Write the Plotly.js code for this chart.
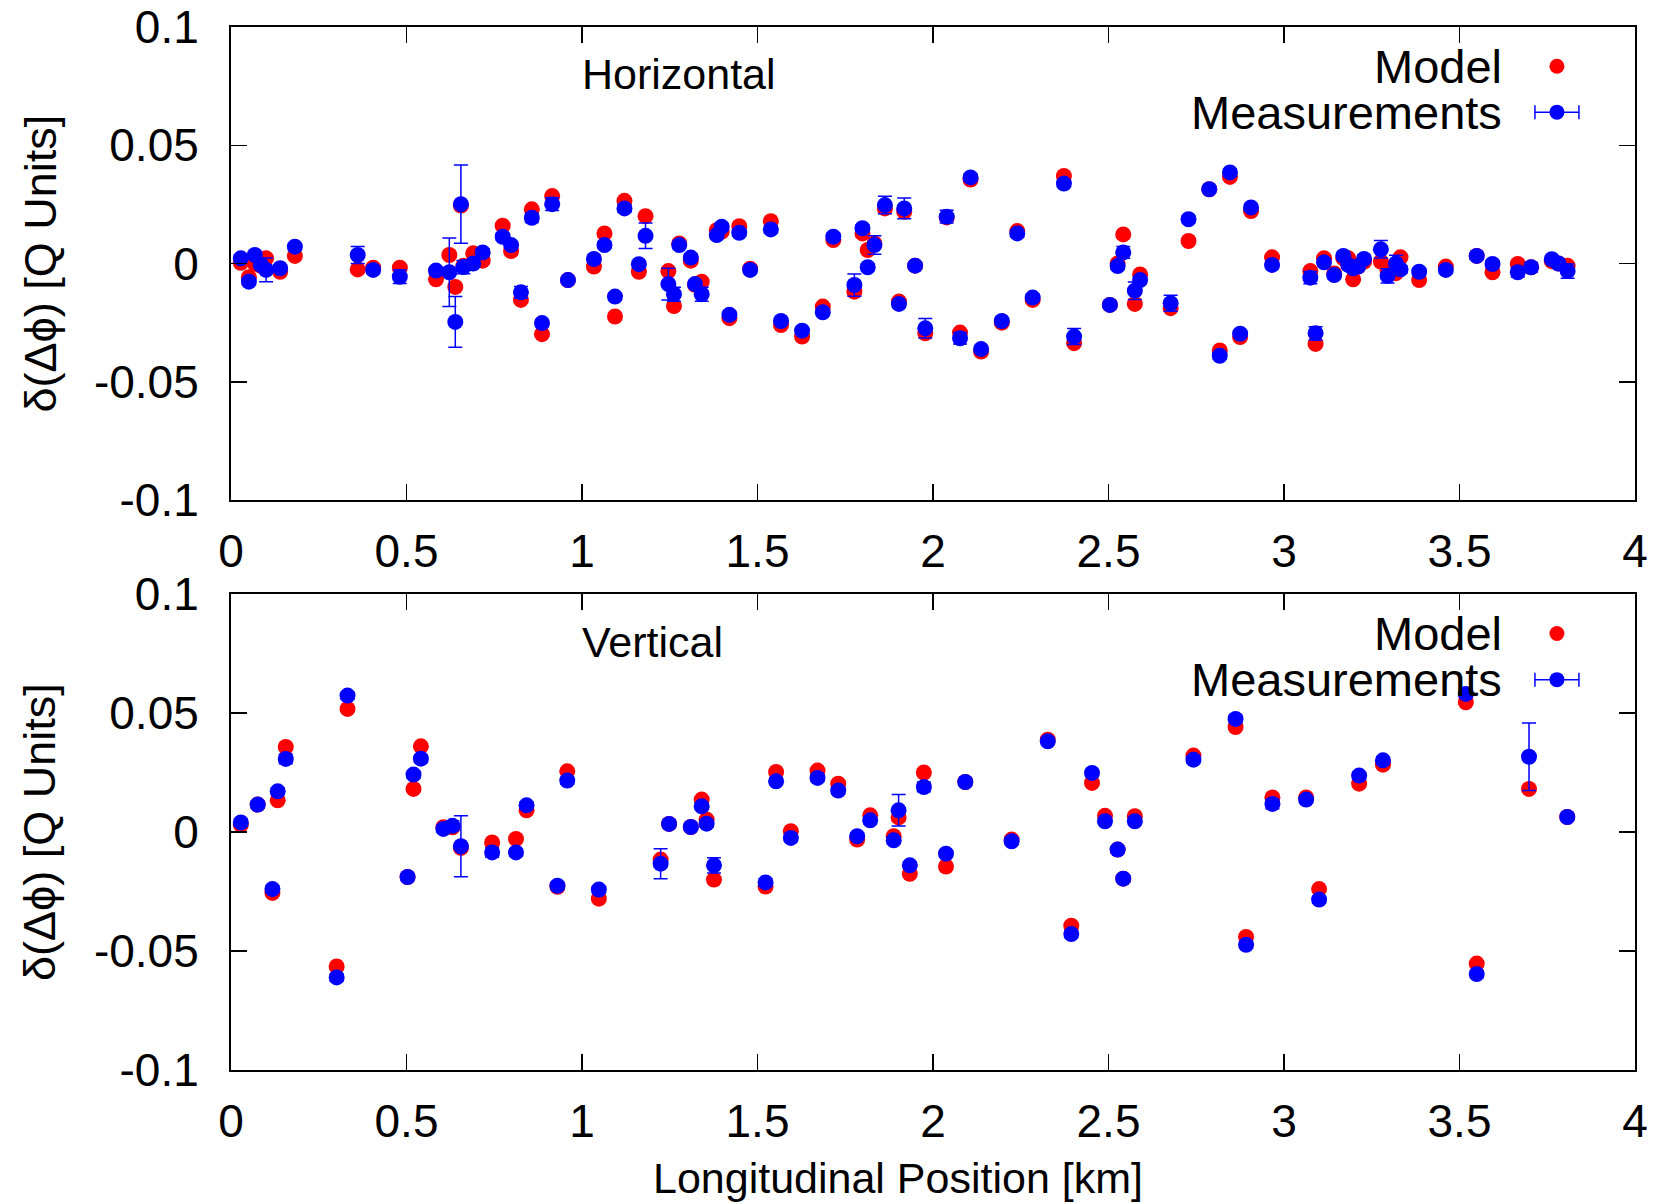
<!DOCTYPE html>
<html>
<head>
<meta charset="utf-8">
<script src="https://cdn.plot.ly/plotly-3.0.1.min.js"></script>
<style>html,body{margin:0;padding:0;background:#fff;}#chart{width:1667px;height:1204px;}</style>
</head>
<body>
<div id="chart"></div>
<script>
// ---- Horizontal plane ----
const posH = [0.028,0.051,0.068,0.085,0.100,0.140,0.182,0.361,0.405,0.481,0.584,0.622,0.639,0.655,0.662,0.690,0.717,0.774,0.798,0.826,0.857,0.886,0.915,0.960,1.034,1.064,1.094,1.121,1.162,1.181,1.246,1.262,1.277,1.310,1.322,1.341,1.384,1.398,1.420,1.448,1.479,1.538,1.567,1.627,1.686,1.716,1.776,1.799,1.814,1.833,1.863,1.903,1.918,1.949,1.978,2.039,2.077,2.107,2.137,2.196,2.240,2.284,2.373,2.402,2.504,2.526,2.542,2.575,2.590,2.677,2.728,2.787,2.817,2.846,2.875,2.906,2.966,3.075,3.090,3.114,3.143,3.169,3.183,3.197,3.211,3.228,3.276,3.295,3.319,3.332,3.385,3.461,3.549,3.594,3.666,3.704,3.763,3.782,3.808];
const modelH = [0.0003,-0.0058,0.0000,-0.0010,0.0022,-0.0035,0.0032,-0.0025,-0.0018,-0.0018,-0.0067,0.0036,-0.0099,0.0245,-0.0010,0.0043,0.0012,0.0160,0.0053,-0.0154,0.0229,-0.0299,0.0285,-0.0070,-0.0013,0.0127,-0.0224,0.0265,-0.0035,0.0200,-0.0032,-0.0180,0.0085,0.0012,-0.0090,-0.0077,0.0141,0.0135,-0.0231,0.0158,-0.0022,0.0179,-0.0260,-0.0309,-0.0182,0.0099,-0.0119,0.0127,0.0057,0.0085,0.0233,-0.0161,0.0219,-0.0009,-0.0295,0.0195,-0.0292,0.0355,-0.0372,-0.0250,0.0137,-0.0154,0.0370,-0.0337,-0.0175,0.0000,0.0123,-0.0171,-0.0046,-0.0189,0.0095,0.0314,-0.0368,0.0366,-0.0311,0.0222,0.0026,-0.0032,-0.0340,0.0022,-0.0042,0.0022,0.0022,-0.0067,-0.0013,0.0008,0.0008,-0.0030,-0.0041,0.0026,-0.0070,-0.0013,0.0032,-0.0037,-0.0002,-0.0016,0.0010,0.0000,-0.0010];
const measH = [0.0022,-0.0077,0.0036,-0.0006,-0.0027,-0.0020,0.0071,0.0036,-0.0027,-0.0056,-0.0030,-0.0037,-0.0247,0.0251,-0.0015,0.0000,0.0047,0.0113,0.0078,-0.0122,0.0193,-0.0252,0.0251,-0.0070,0.0019,0.0078,-0.0140,0.0233,-0.0003,0.0117,-0.0087,-0.0130,0.0078,0.0025,-0.0087,-0.0130,0.0120,0.0155,-0.0217,0.0130,-0.0027,0.0144,-0.0243,-0.0284,-0.0206,0.0113,-0.0091,0.0149,-0.0016,0.0078,0.0247,-0.0171,0.0233,-0.0009,-0.0274,0.0198,-0.0316,0.0364,-0.0362,-0.0243,0.0127,-0.0144,0.0338,-0.0309,-0.0175,-0.0011,0.0047,-0.0115,-0.0070,-0.0168,0.0187,0.0314,-0.0390,0.0385,-0.0297,0.0237,-0.0006,-0.0060,-0.0295,0.0005,-0.0049,0.0032,-0.0006,-0.0020,-0.0013,0.0019,0.0060,-0.0052,0.0000,-0.0025,-0.0035,-0.0027,0.0032,-0.0002,-0.0037,-0.0016,0.0018,0.0000,-0.0032];
const errH = [0.0015,0.0015,0.0015,0.0015,0.0050,0.0015,0.0015,0.0036,0.0015,0.0029,0.0015,0.0145,0.0107,0.0165,0.0028,0.0015,0.0015,0.0015,0.0015,0.0025,0.0020,0.0015,0.0027,0.0015,0.0015,0.0015,0.0015,0.0015,0.0015,0.0054,0.0067,0.0030,0.0015,0.0015,0.0015,0.0030,0.0015,0.0015,0.0015,0.0015,0.0015,0.0015,0.0015,0.0015,0.0015,0.0015,0.0047,0.0015,0.0015,0.0039,0.0037,0.0015,0.0044,0.0015,0.0041,0.0027,0.0024,0.0015,0.0015,0.0015,0.0015,0.0015,0.0015,0.0034,0.0015,0.0015,0.0025,0.0037,0.0015,0.0034,0.0015,0.0015,0.0015,0.0015,0.0015,0.0015,0.0015,0.0026,0.0028,0.0015,0.0015,0.0015,0.0015,0.0015,0.0015,0.0015,0.0037,0.0030,0.0035,0.0015,0.0015,0.0015,0.0015,0.0015,0.0020,0.0020,0.0015,0.0015,0.0030];

// ---- Vertical plane ----
const posV = [0.028,0.076,0.118,0.133,0.156,0.301,0.332,0.503,0.520,0.541,0.605,0.631,0.655,0.744,0.812,0.842,0.930,0.958,1.048,1.224,1.248,1.310,1.341,1.355,1.376,1.523,1.553,1.595,1.671,1.730,1.784,1.821,1.888,1.902,1.934,1.974,2.037,2.092,2.224,2.327,2.394,2.453,2.490,2.526,2.542,2.575,2.742,2.862,2.892,2.967,3.063,3.100,3.214,3.282,3.518,3.549,3.698,3.807];
const modelV = [0.0031,0.0115,-0.0256,0.0133,0.0357,-0.0565,0.0517,-0.0189,0.0181,0.0360,0.0020,0.0020,-0.0067,-0.0044,-0.0029,0.0091,-0.0230,0.0255,-0.0280,-0.0116,0.0034,0.0021,0.0136,0.0052,-0.0200,-0.0229,0.0252,0.0003,0.0258,0.0203,-0.0032,0.0070,-0.0018,0.0061,-0.0176,0.0250,-0.0145,0.0210,-0.0032,0.0388,-0.0394,0.0206,0.0068,-0.0074,-0.0196,0.0066,0.0321,0.0441,-0.0441,0.0145,0.0145,-0.0240,0.0203,0.0283,0.0545,-0.0553,0.0181,0.0063];
const measV = [0.0040,0.0115,-0.0240,0.0171,0.0307,-0.0611,0.0573,-0.0189,0.0241,0.0308,0.0013,0.0026,-0.0060,-0.0086,-0.0086,0.0112,-0.0226,0.0216,-0.0242,-0.0133,0.0034,0.0021,0.0108,0.0035,-0.0140,-0.0212,0.0213,-0.0025,0.0227,0.0174,-0.0018,0.0049,-0.0035,0.0091,-0.0140,0.0189,-0.0091,0.0210,-0.0039,0.0381,-0.0429,0.0248,0.0045,-0.0074,-0.0196,0.0045,0.0304,0.0475,-0.0474,0.0118,0.0136,-0.0284,0.0237,0.0301,0.0580,-0.0597,0.0316,0.0063];
const errV = [0.0015,0.0015,0.0015,0.0015,0.0020,0.0015,0.0015,0.0015,0.0015,0.0015,0.0015,0.0020,0.0128,0.0020,0.0015,0.0015,0.0015,0.0015,0.0015,0.0063,0.0015,0.0015,0.0015,0.0015,0.0032,0.0015,0.0015,0.0015,0.0015,0.0015,0.0015,0.0015,0.0015,0.0066,0.0015,0.0020,0.0015,0.0015,0.0015,0.0015,0.0015,0.0015,0.0015,0.0015,0.0015,0.0015,0.0015,0.0015,0.0015,0.0020,0.0015,0.0015,0.0015,0.0015,0.0015,0.0015,0.0142,0.0015];

// ---- Axis ticks & labels ----
const xTickVals = [0,0.5,1,1.5,2,2.5,3,3.5,4];
const xTickText = ['0','0.5','1','1.5','2','2.5','3','3.5','4'];
const yTickVals = [-0.1,-0.05,0,0.05,0.1];
const yTickText = ['-0.1','-0.05','0','0.05','0.1'];
const panelLabels = ['Horizontal','Vertical'];
const seriesNames = ['Model','Measurements'];
const yTitle = 'δ(Δϕ) [Q Units]';
const xTitle = 'Longitudinal Position [km]';

const RED = '#ff0000', BLUE = '#0000ff';
const FAM = 'Liberation Sans, Arial, Helvetica, sans-serif';
const TICKFONT = {family: FAM, size: 46, color: '#000'};
const LEGFONT = {family: FAM, size: 47, color: '#000'};
const LABELFONT = {family: FAM, size: 43, color: '#000'};
const YTFONT = {family: FAM, size: 45, color: '#000'};

function modelTrace(x, y, xa, ya) {
  return {x: x, y: y, xaxis: xa, yaxis: ya, type: 'scatter', mode: 'markers', name: seriesNames[0],
    showlegend: false, marker: {color: RED, size: 16, line: {width: 0}}};
}
function measTrace(x, y, e, xa, ya) {
  return {x: x, y: y, xaxis: xa, yaxis: ya, type: 'scatter', mode: 'markers', name: seriesNames[1],
    showlegend: false, marker: {color: BLUE, size: 16, line: {width: 0}},
    error_y: {type: 'data', array: e, visible: true, color: BLUE, thickness: 1.5, width: 7}};
}

const data = [
  modelTrace(posH, modelH, 'x', 'y'),
  measTrace(posH, measH, errH, 'x', 'y'),
  modelTrace(posV, modelV, 'x2', 'y2'),
  measTrace(posV, measV, errV, 'x2', 'y2')
];

function xAxis(anchor) {
  return {anchor: anchor, range: [0, 4], tickvals: xTickVals, ticktext: xTickText,
    ticks: 'inside', ticklen: 16, tickwidth: 1.5, tickcolor: '#000',
    showline: true, linecolor: '#000', linewidth: 2, mirror: 'ticks',
    showgrid: false, zeroline: false, tickfont: TICKFONT, ticklabelstandoff: 10};
}
function yAxis(anchor, domain) {
  return {anchor: anchor, domain: domain, range: [-0.1, 0.1], tickvals: yTickVals, ticktext: yTickText,
    ticks: 'inside', ticklen: 16, tickwidth: 1.5, tickcolor: '#000',
    showline: true, linecolor: '#000', linewidth: 2, mirror: 'ticks',
    showgrid: false, zeroline: false, tickfont: TICKFONT, ticklabelstandoff: 21};
}

const annotations = [];
const shapes = [];
[['x','y'],['x2','y2']].forEach(function(ax, i) {
  const xd = ax[0] + ' domain', yd = ax[1] + ' domain';
  annotations.push({xref: xd, yref: yd, x: 0.2484, y: 0.90, xanchor: 'left', yanchor: 'middle',
    text: panelLabels[i], showarrow: false, font: LABELFONT});
  annotations.push({xref: xd, yref: yd, x: 0.9067, y: 0.917, xanchor: 'right', yanchor: 'middle',
    text: seriesNames[0], showarrow: false, font: LEGFONT});
  annotations.push({xref: xd, yref: yd, x: 0.9067, y: 0.820, xanchor: 'right', yanchor: 'middle',
    text: seriesNames[1], showarrow: false, font: LEGFONT});
  // legend keys
  const kx = 0.9444;
  shapes.push({type: 'circle', xref: xd, yref: yd, xsizemode: 'pixel', ysizemode: 'pixel',
    xanchor: kx, yanchor: 0.917, x0: -7.5, x1: 7.5, y0: -7.5, y1: 7.5, fillcolor: RED, line: {width: 0}});
  shapes.push({type: 'line', xref: xd, yref: yd, xsizemode: 'pixel', ysizemode: 'pixel',
    xanchor: kx, yanchor: 0.820, x0: -22, x1: 22, y0: 0, y1: 0, line: {color: BLUE, width: 1.5}});
  shapes.push({type: 'line', xref: xd, yref: yd, xsizemode: 'pixel', ysizemode: 'pixel',
    xanchor: kx, yanchor: 0.820, x0: -22, x1: -22, y0: -7, y1: 7, line: {color: BLUE, width: 1.5}});
  shapes.push({type: 'line', xref: xd, yref: yd, xsizemode: 'pixel', ysizemode: 'pixel',
    xanchor: kx, yanchor: 0.820, x0: 22, x1: 22, y0: -7, y1: 7, line: {color: BLUE, width: 1.5}});
  shapes.push({type: 'circle', xref: xd, yref: yd, xsizemode: 'pixel', ysizemode: 'pixel',
    xanchor: kx, yanchor: 0.820, x0: -7.5, x1: 7.5, y0: -7.5, y1: 7.5, fillcolor: BLUE, line: {width: 0}});
  // y-axis title
  annotations.push({xref: 'paper', yref: yd, x: -0.1360, y: 0.5, xanchor: 'center', yanchor: 'middle',
    textangle: -90, text: yTitle, showarrow: false, font: YTFONT});
});
annotations.push({xref: 'paper', yref: 'paper', x: 0.475, y: -0.1035, xanchor: 'center', yanchor: 'middle',
  text: xTitle, showarrow: false, font: LABELFONT});

const layout = {
  width: 1667, height: 1204,
  margin: {l: 231, r: 32, t: 27, b: 134},
  paper_bgcolor: '#fff', plot_bgcolor: '#fff',
  font: TICKFONT,
  showlegend: false,
  xaxis: xAxis('y'),
  yaxis: yAxis('x', [0.5465, 1]),
  xaxis2: xAxis('y2'),
  yaxis2: yAxis('x2', [0, 0.4564]),
  annotations: annotations,
  shapes: shapes
};

Plotly.newPlot('chart', data, layout, {displayModeBar: false, staticPlot: true});
</script>
</body>
</html>
